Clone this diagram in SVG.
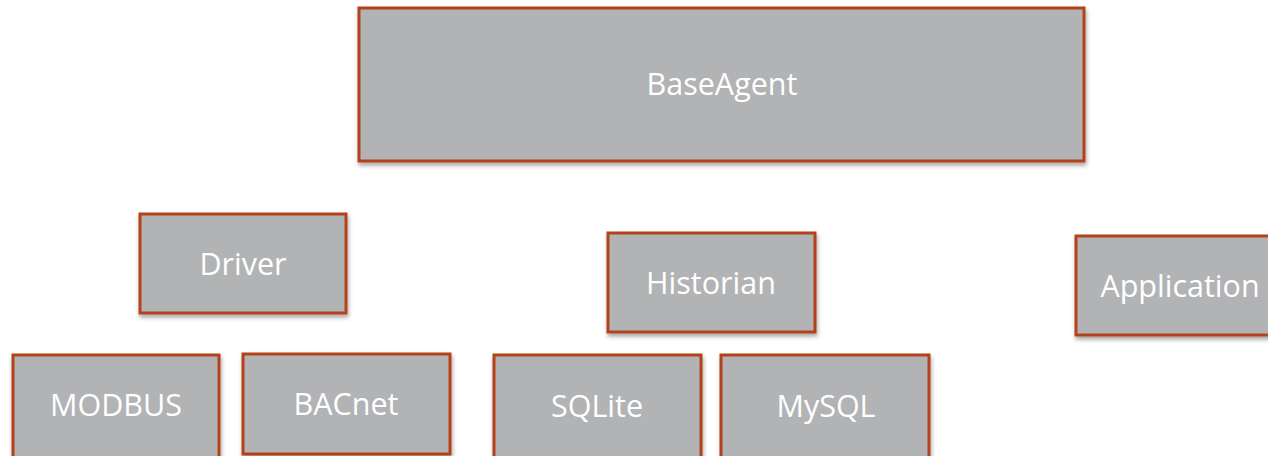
<svg xmlns="http://www.w3.org/2000/svg" width="1268" height="456" viewBox="0 0 1268 456">
<defs>
<filter id="sh" x="-10%" y="-10%" width="120%" height="130%">
<feDropShadow dx="1" dy="3" stdDeviation="2" flood-color="#000" flood-opacity="0.35"/>
</filter>
</defs>
<style>
.box{fill:#b2b3b5;stroke:#b3431a;stroke-width:3;filter:url(#sh)}
.lbl{fill:#ffffff;font-family:"Open Sans","Liberation Sans",sans-serif;font-size:30.5px;text-anchor:middle;dominant-baseline:central}
</style>
<rect width="1268" height="456" fill="#ffffff"/>
<g id="connectors"/>
<g id="baseagent"><rect class="box" x="359" y="8" width="725" height="153"/><text class="lbl" x="722" y="83">BaseAgent</text></g>
<g id="driver"><rect class="box" x="140" y="214" width="206" height="99"/><text class="lbl" x="243" y="263">Driver</text></g>
<g id="historian"><rect class="box" x="608" y="233" width="207" height="99"/><text class="lbl" x="711" y="282">Historian</text></g>
<g id="application"><rect class="box" x="1076" y="236" width="200" height="99"/><text class="lbl" x="1180" y="285">Application</text></g>
<g id="modbus"><rect class="box" x="13" y="355" width="206" height="110"/><text class="lbl" x="116" y="404">MODBUS</text></g>
<g id="bacnet"><rect class="box" x="243" y="354" width="207" height="100"/><text class="lbl" x="346" y="403">BACnet</text></g>
<g id="sqlite"><rect class="box" x="494" y="355" width="207" height="110"/><text class="lbl" x="597" y="405">SQLite</text></g>
<g id="mysql"><rect class="box" x="721" y="355" width="208" height="110"/><text class="lbl" x="826" y="405">MySQL</text></g>
</svg>
